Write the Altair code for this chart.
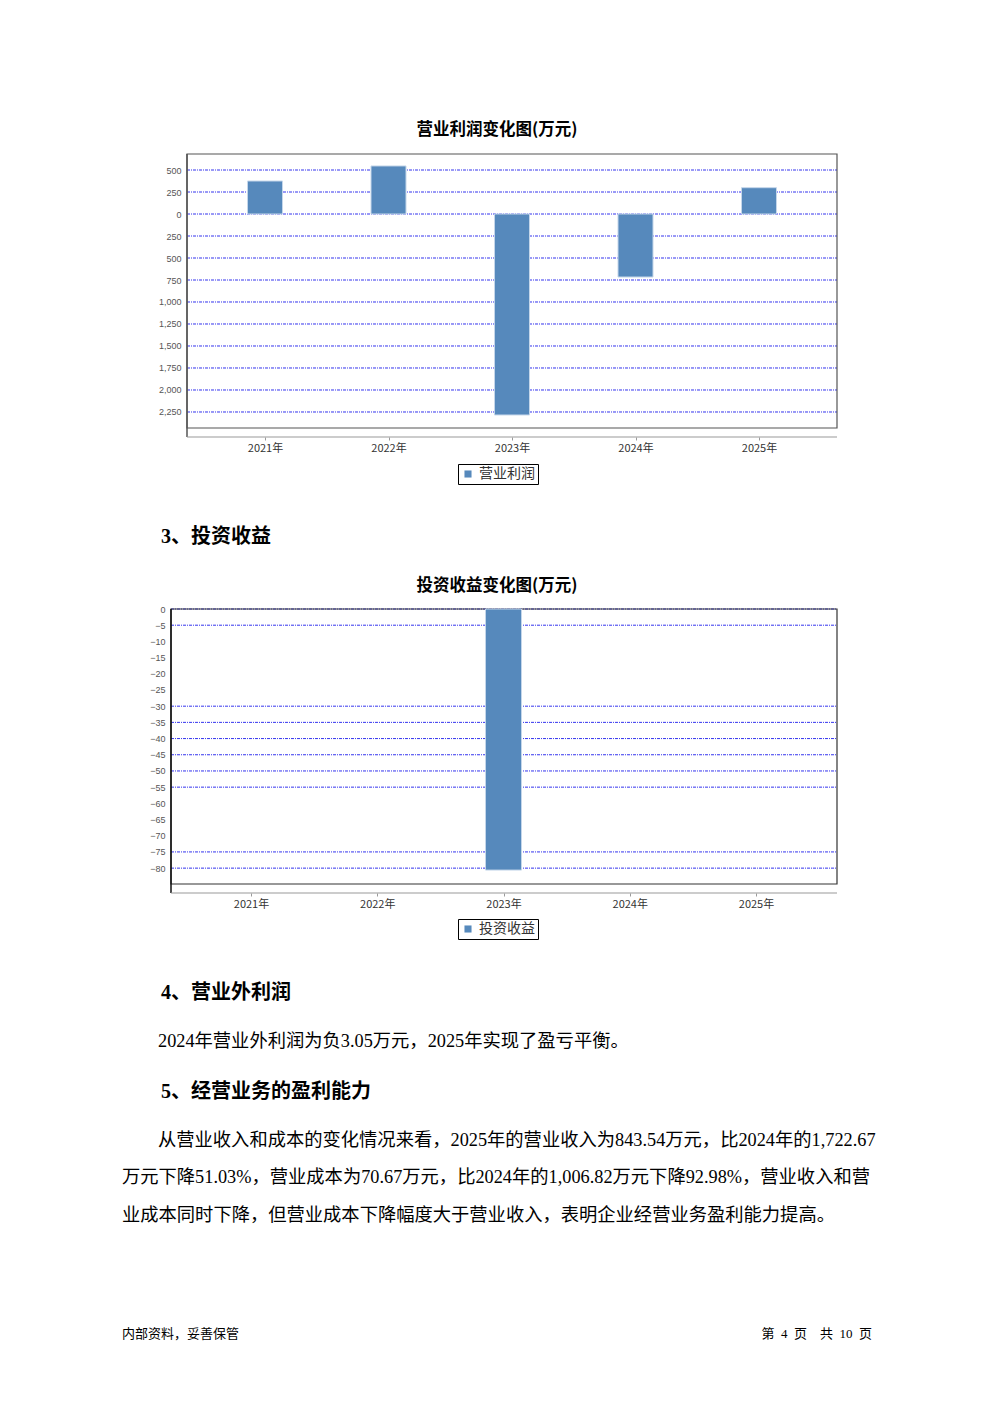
import altair as alt
import pandas as pd

# ---------------- data ----------------
years = ["2021年", "2022年", "2023年", "2024年", "2025年"]
op_profit = [375, 546, -2284, -716, 299]          # 营业利润 (万元)
inv_income = [0, 0, -80.6, 0, 0]                   # 投资收益 (万元)
op_ticks = [500, 250, 0, -250, -500, -750, -1000, -1250, -1500, -1750, -2000, -2250]
op_grid = [500, 250, 0, -250, -500, -750, -1000, -1250, -1500, -1750, -2000, -2250]
inv_ticks = [0, -5, -10, -15, -20, -25, -30, -35, -40, -45, -50, -55, -60, -65, -70, -75, -80]
inv_grid = [0, -5, -30, -35, -40, -45, -50, -55, -75, -80]

title1 = "营业利润变化图(万元)"
title2 = "投资收益变化图(万元)"
series1 = "营业利润"
series2 = "投资收益"
heading3 = "3、投资收益"
heading4 = "4、营业外利润"
heading5 = "5、经营业务的盈利能力"
para4 = "2024年营业外利润为负3.05万元，2025年实现了盈亏平衡。"
para5 = [
    "从营业收入和成本的变化情况来看，2025年的营业收入为843.54万元，比2024年的1,722.67",
    "万元下降51.03%，营业成本为70.67万元，比2024年的1,006.82万元下降92.98%，营业收入和营",
    "业成本同时下降，但营业成本下降幅度大于营业收入，表明企业经营业务盈利能力提高。",
]
footer_left = "内部资料，妥善保管"
footer_right = "第\u00a0\u00a04\u00a0\u00a0页\u00a0\u00a0\u00a0\u00a0共\u00a0\u00a010\u00a0\u00a0页"

# ---------------- styles ----------------
BAR = "#5689BC"
GRID = "#3434ee"
DASH = [3, 1, 1, 1]
CJK = "'Noto Sans CJK SC', sans-serif"
BODY = "'Liberation Serif', 'Noto Sans CJK SC', serif"
BODY_SIZE = 18.3
LEFT = 162      # left column width (page x 170 - 8)
W = 666         # width of the chart column


def blank(w, h):
    return alt.Chart(pd.DataFrame({"a": [0]})).mark_point(opacity=0, size=0).encode(
        x=alt.value(2), y=alt.value(2)
    ).properties(width=w, height=h)


def text(t, x, y, size, weight="normal", align="left", font=BODY, color="#000"):
    return alt.Chart(pd.DataFrame({"t": [t]})).mark_text(
        align=align, baseline="middle", fontSize=size, fontWeight=weight,
        font=font, color=color
    ).encode(text="t:N", x=alt.value(x), y=alt.value(y))


def cell(w, h, *texts):
    return alt.layer(blank(w, h), *texts).properties(width=w, height=h)


def bar_chart(values, series, ticks, grid, domain, height, x0, x_range, bar_size,
              label_expr, legend_x, legend_y, border, left_border):
    """x0: left edge of the plot frame inside the W-wide cell."""
    df = pd.DataFrame({"year": years, "value": values, "series": [series] * len(years)})
    gdf = pd.DataFrame({"v": grid})
    one = pd.DataFrame({"a": [0]})
    yscale = alt.Scale(domain=domain, nice=False, zero=False)
    xenc = alt.X("year:N", sort=years,
                 scale=alt.Scale(type="point", range=x_range, padding=0, domain=years),
                 axis=alt.Axis(offset=9, domain=False, tickColor="#9a9a9a",
                               tickSize=3, labelAngle=0, labelFontSize=11,
                               labelColor="#333", labelFont=CJK, labelPadding=2,
                               title=None, grid=False))
    yaxis = alt.Axis(values=ticks, grid=False, ticks=False, domain=False,
                     labelFontSize=9, labelColor="#555", labelPadding=6, title=None,
                     offset=-x0, labelExpr=label_expr)
    grid_layer = alt.Chart(gdf).mark_rule(color=GRID, strokeDash=DASH, strokeWidth=1).encode(
        y=alt.Y("v:Q", scale=yscale, axis=yaxis),
        x=alt.value(x0), x2=alt.value(W),
    )
    frame = alt.Chart(one).mark_rect(fill="transparent", stroke=border, strokeWidth=1.2).encode(
        x=alt.value(x0), x2=alt.value(W), y=alt.value(0), y2=alt.value(height)
    )
    left_line = alt.Chart(one).mark_rule(color=left_border, strokeWidth=1.5).encode(
        x=alt.value(x0), y=alt.value(0), y2=alt.value(height + 9)
    )
    axis_line = alt.Chart(one).mark_rule(color="#9a9a9a", strokeWidth=1.2).encode(
        x=alt.value(x0), x2=alt.value(W), y=alt.value(height + 9)
    )
    bars = alt.Chart(df).transform_filter("datum.value != 0").mark_bar(
        size=bar_size, stroke="#c4d6ea", strokeWidth=1
    ).encode(
        x=xenc,
        y=alt.Y("value:Q", scale=yscale, axis=yaxis),
        color=alt.Color("series:N", scale=alt.Scale(range=[BAR]),
                        legend=alt.Legend(orient="none", legendX=legend_x, legendY=legend_y,
                                          title=None, strokeColor="#000", fillColor="#fff",
                                          padding=3, symbolType="square", symbolSize=50,
                                          symbolStrokeWidth=0, labelFontSize=14,
                                          labelFont=CJK, labelColor="#333",
                                          labelOffset=4)),
    )
    return alt.layer(grid_layer, frame, left_line, axis_line, bars).properties(
        width=W, height=height,
    )


# chart 1: frame page x 186-836, category centres at page x 264 ... 758
chart1 = bar_chart(op_profit, series1, op_ticks, op_grid, [-2432, 682], 274, 16, [94, 588], 35,
                   "format(abs(datum.value), ',')", 287, 310, "#555", "#555")
# chart 2: frame page x 170-836, category centres at page x 250 ... 755
chart2 = bar_chart(inv_income, series2, inv_ticks, inv_grid, [-84.9, 0], 275, 0, [80, 585], 36,
                   "format(datum.value, 'd')", 287, 310, "#333", "#111")

cells = [
    # row A: title of chart 1
    cell(LEFT, 145, text(title1, 488, 121, 16.5, "bold", "center", CJK)),
    blank(W, 145),
    # row B: chart 1
    blank(LEFT, 274),
    chart1,
    # row C: heading 3 + title of chart 2
    cell(LEFT, 181,
         text(heading3, 152, 109, 20, "bold"),
         text(title2, 488, 158, 16.5, "bold", "center", CJK)),
    blank(W, 181),
    # row D: chart 2
    blank(LEFT, 275),
    chart2,
    # row E: text
    cell(LEFT, 470,
         text(heading4, 152, 109, 20, "bold"),
         text(para4, 149, 158, BODY_SIZE),
         text(heading5, 152, 208, 20, "bold"),
         text(para5[0], 149, 257, BODY_SIZE),
         text(para5[1], 113, 294, BODY_SIZE),
         text(para5[2], 113, 332, BODY_SIZE),
         text(footer_left, 113, 450, 13),
         text(footer_right, 863, 450, 13, align="right")),
    blank(W, 470),
]

chart = alt.concat(*cells, columns=2, spacing=0, bounds="flush", align="none").resolve_scale(
    color="independent"
).properties(padding=0, background="#ffffff").configure_view(stroke="transparent")

chart.save("out.html", embed_options={"renderer": "svg", "actions": False})
